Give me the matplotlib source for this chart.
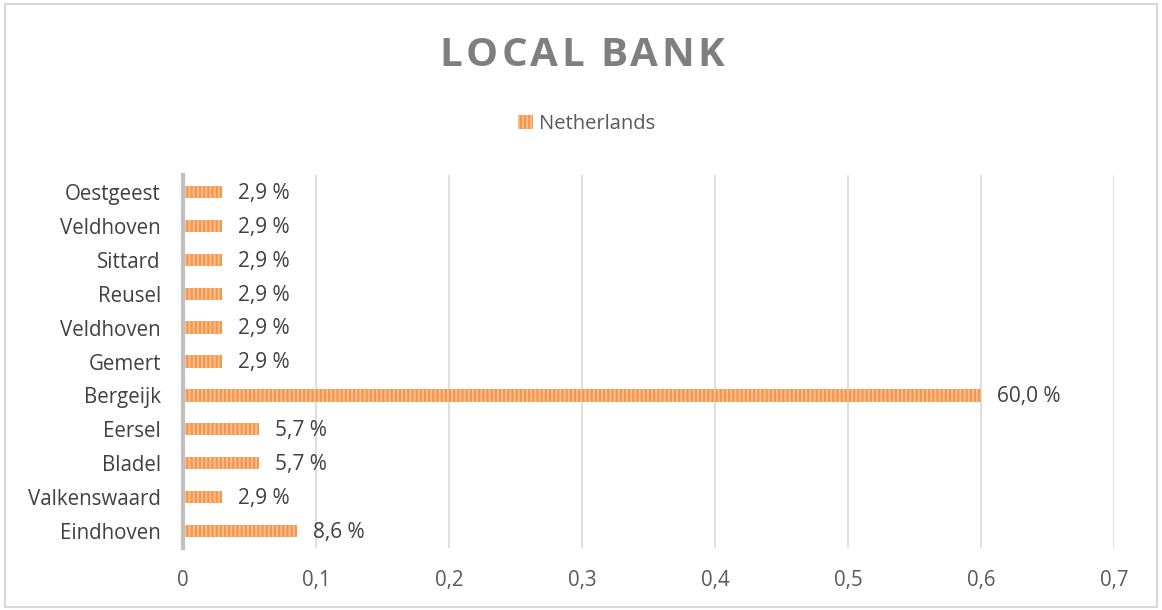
import matplotlib.pyplot as plt
from matplotlib.patches import Rectangle

plt.rcParams['font.family'] = ['Open Sans', 'DejaVu Sans']
plt.rcParams['hatch.linewidth'] = 1.4

cities = ["Eindhoven", "Valkenswaard", "Bladel", "Eersel", "Bergeijk",
          "Gemert", "Veldhoven", "Reusel", "Sittard", "Veldhoven", "Oestgeest"]
share = [0.086, 0.029, 0.057, 0.057, 0.600,
         0.029, 0.029, 0.029, 0.029, 0.029, 0.029]
xticks = [0, 0.1, 0.2, 0.3, 0.4, 0.5, 0.6, 0.7]
series = "Netherlands"
title = "LOCAL BANK"

bar_col = "#F5964A"
stripe_col = "#F9BE90"

fig = plt.figure(figsize=(11.62, 6.10), dpi=100)
ax = fig.add_axes([183/1162, 1-548/610, (1114-183)/1162, (548-175)/610])

pos = list(range(len(cities)))
ax.barh(pos, share, height=0.36, color=bar_col, edgecolor=stripe_col,
        hatch="||||", linewidth=0, label=series, zorder=3)

for p, v in zip(pos, share):
    ax.text(v + 0.012, p - 0.04, f"{v*100:.1f} %".replace(".", ","), va="center",
            ha="left", fontsize=15, color="#404040")

ax.set_xlim(0, 0.7)
ax.set_ylim(-0.5, len(cities) - 0.5)
ax.set_xticks(xticks)
ax.set_xticklabels([("%g" % t).replace(".", ",") for t in xticks])
ax.set_yticks(pos)
ax.set_yticklabels(cities)
ax.tick_params(axis="both", length=0, labelsize=14.8, labelcolor="#595959")
ax.tick_params(axis="y", labelcolor="#404040", pad=16)
ax.tick_params(axis="x", pad=16)
ax.xaxis.grid(True, color="#D9D9D9", linewidth=1.2, zorder=0)
for s in ["top", "right", "bottom"]:
    ax.spines[s].set_visible(False)
ax.spines["left"].set_color("#BFBFBF")
ax.spines["left"].set_linewidth(3)
ax.spines["left"].set_zorder(4)

# title with letter spacing, one glyph at a time
r = fig.canvas.get_renderer()
spacing = 3.4
chars = []
widths = []
for ch in title:
    t = fig.text(0, 1-56/610, ch, ha="left", va="center", fontsize=29,
                 fontweight="bold", color="#7F7F7F")
    w = t.get_window_extent(r).width
    if ch == " ":
        w = 9
    chars.append(t)
    widths.append(w)
total = sum(widths) + spacing * (len(title) - 1)
x = 1162 / 2 + 1 - total / 2
for t, w in zip(chars, widths):
    t.set_x(x / 1162)
    x += w + spacing

fig.legend(loc="center", bbox_to_anchor=(0.505, 1-124/610), frameon=False,
           fontsize=14.5, labelcolor="#595959", handlelength=0.75,
           handleheight=0.75, handletextpad=0.3)

fig.patches.append(Rectangle((5/1162, 3/610), 1152/1162, 603/610,
                             transform=fig.transFigure, fill=False,
                             edgecolor="#D9D9D9", linewidth=1.5))

fig.savefig("out.png", dpi=100)
